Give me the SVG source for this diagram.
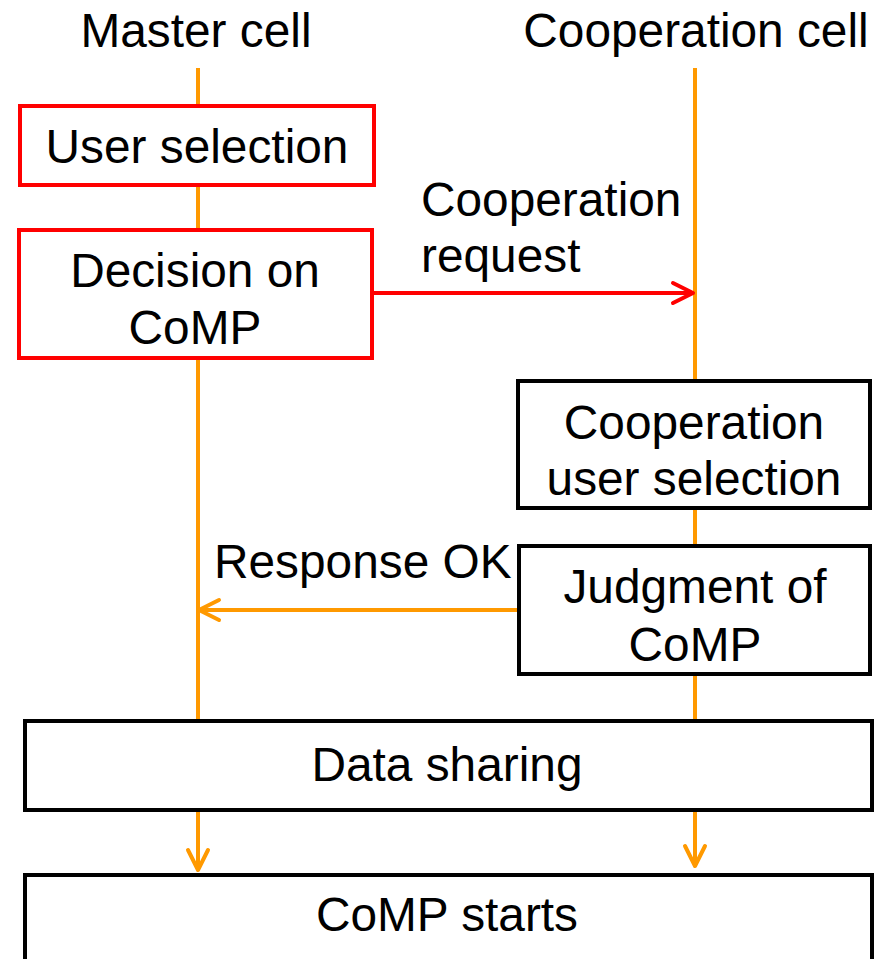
<svg xmlns="http://www.w3.org/2000/svg" width="879" height="959" viewBox="0 0 879 959">
<style>
text{font-family:"Liberation Sans",Arial,sans-serif;font-size:47.8px;fill:#000}
.c{text-anchor:middle}
.life{stroke:#FF9900;stroke-width:4;fill:none}
.red{fill:#fff;stroke:#FF0000;stroke-width:4}
.blk{fill:#fff;stroke:#000;stroke-width:4}
.ah{fill:none;stroke-width:4;stroke-linecap:round;stroke-linejoin:round}
</style>
<rect width="879" height="959" fill="#fff"/>
<text class="c" x="196" y="47">Master cell</text>
<text class="c" x="696" y="47">Cooperation cell</text>
<g id="connectors">
<line class="life" x1="198" y1="68" x2="198" y2="720"/>
<line class="life" x1="695" y1="68" x2="695" y2="720"/>
<line x1="374" y1="293" x2="691" y2="293" stroke="#FF0000" stroke-width="4"/>
<polyline class="ah" stroke="#FF0000" points="673,283 693,293 673,303"/>
<line class="life" x1="518" y1="610" x2="201" y2="610"/>
<polyline class="ah" stroke="#FF9900" points="219,600 199,610 219,620"/>
<line class="life" x1="198" y1="810" x2="198" y2="868"/>
<polyline class="ah" stroke="#FF9900" points="188,850 198,870 208,850"/>
<line class="life" x1="695" y1="810" x2="695" y2="864"/>
<polyline class="ah" stroke="#FF9900" points="685,846 695,866 705,846"/>
</g>
<text x="421" y="216">Cooperation</text>
<text x="421" y="272">request</text>
<text x="214" y="578">Response OK</text>
<g id="user-selection">
<rect class="red" x="20" y="106" width="354" height="79"/>
<text class="c" x="197" y="163">User selection</text>
</g>
<g id="decision">
<rect class="red" x="19" y="230" width="353" height="128"/>
<text class="c" x="195" y="287">Decision on</text>
<text class="c" x="195" y="344">CoMP</text>
</g>
<g id="coop-user-selection">
<rect class="blk" x="518" y="381" width="352" height="127"/>
<text class="c" x="694" y="439">Cooperation</text>
<text class="c" x="694" y="495">user selection</text>
</g>
<g id="judgment">
<rect class="blk" x="519" y="546" width="351" height="128"/>
<text class="c" x="695" y="603">Judgment of</text>
<text class="c" x="695" y="661">CoMP</text>
</g>
<g id="data-sharing">
<rect class="blk" x="25" y="721" width="847" height="89"/>
<text class="c" x="447" y="781">Data sharing</text>
</g>
<g id="comp-starts">
<rect class="blk" x="25" y="875" width="847" height="100"/>
<text class="c" x="447" y="931">CoMP starts</text>
</g>
</svg>
